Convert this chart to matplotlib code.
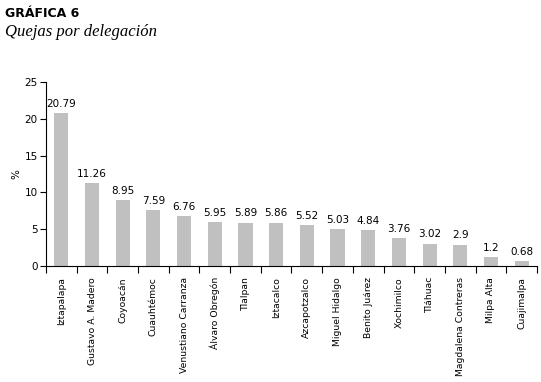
import matplotlib
matplotlib.use('Agg')
import matplotlib.pyplot as plt
import numpy as np

# Datos
delegaciones = ['Iztapalapa', 'Gustavo A. Madero', 'Coyoacán', 'Cuauhtémoc',
                'Venustiano Carranza', 'Álvaro Obregón', 'Tlalpan', 'Iztacalco',
                'Azcapotzalco', 'Miguel Hidalgo', 'Benito Juárez', 'Xochimilco',
                'Tláhuac', 'Magdalena Contreras', 'Milpa Alta', 'Cuajimalpa']
porcentajes = [20.79, 11.26, 8.95, 7.59, 6.76, 5.95, 5.89, 5.86,
               5.52, 5.03, 4.84, 3.76, 3.02, 2.9, 1.2, 0.68]
etiquetas = ['20.79', '11.26', '8.95', '7.59', '6.76', '5.95', '5.89', '5.86',
             '5.52', '5.03', '4.84', '3.76', '3.02', '2.9', '1.2', '0.68']

fig = plt.figure(figsize=(5.41, 3.82), dpi=100)
ax = fig.add_axes([0.085, 0.3037, 0.9076, 0.4816])

x = np.arange(len(delegaciones))
ax.bar(x, porcentajes, width=0.46, color='#c0c0c0')
for xi, v, t in zip(x, porcentajes, etiquetas):
    ax.text(xi, v + 0.6, t, ha='center', va='bottom', fontsize=7.5)

ax.set_xlim(-0.5, len(delegaciones) - 0.5)
ax.set_ylim(0, 25)
ax.set_yticks([0, 5, 10, 15, 20, 25])
ax.tick_params(axis='y', labelsize=7.5, length=4, width=0.8, direction='out', pad=2)

# marcas entre categorias, etiquetas centradas
ax.set_xticks(np.arange(-0.5, len(delegaciones), 1.0))
ax.set_xticklabels([])
ax.tick_params(axis='x', length=5, width=0.8, direction='out')
ax.set_xticks(x, minor=True)
ax.set_xticklabels(delegaciones, minor=True, rotation=90, fontsize=6.7)
ax.tick_params(axis='x', which='minor', length=0, pad=8)

for s in ['top', 'right']:
    ax.spines[s].set_visible(False)
for s in ['left', 'bottom']:
    ax.spines[s].set_linewidth(0.8)

ax.set_ylabel('%', fontsize=7.5, labelpad=2)

fig.text(0.009, 0.965, 'GRÁFICA 6', fontsize=9, fontweight='bold', va='center')
fig.text(0.009, 0.915, 'Quejas por delegación', fontsize=12, style='italic',
         family='Liberation Serif', va='center')

fig.savefig('out.png', dpi=100)
